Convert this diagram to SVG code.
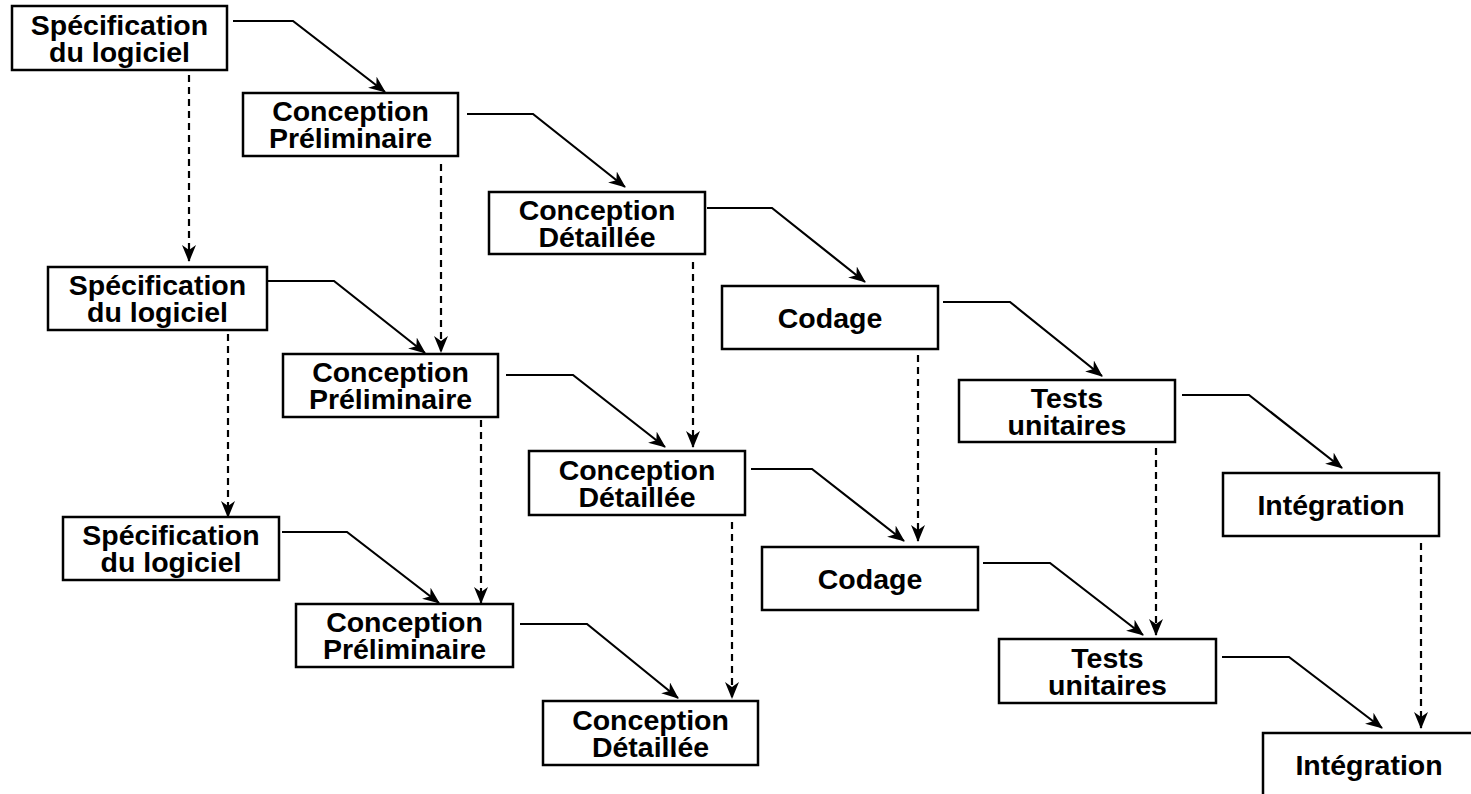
<svg xmlns="http://www.w3.org/2000/svg" width="1471" height="794" viewBox="0 0 1471 794">
<style>
.box{fill:#fff;stroke:#000;stroke-width:2.5}
.t{font-family:"Liberation Sans",Arial,sans-serif;font-weight:bold;font-size:28.5px;text-anchor:middle;fill:#000}
.flow{fill:none;stroke:#000;stroke-width:2.2;marker-end:url(#ah)}
.dep{fill:none;stroke:#000;stroke-width:2.2;stroke-dasharray:7,5;marker-end:url(#ah)}
</style>
<defs>
<marker id="ah" markerUnits="userSpaceOnUse" viewBox="0 0 17 14" markerWidth="17" markerHeight="14" refX="16" refY="7" orient="auto">
<path d="M0,0 L17,7 L0,14 L5,7 Z" fill="#000"/>
</marker>
</defs>
<rect width="1471" height="794" fill="#fff"/>
<g id="connectors">
<path class="flow" d="M233,21 H293 L385,92"/>
<path class="flow" d="M467,114 H533 L625,187"/>
<path class="flow" d="M707,208 H772 L865,282"/>
<path class="flow" d="M943,302 H1010 L1102,376"/>
<path class="flow" d="M1182,395 H1249 L1342,468"/>
<path class="flow" d="M268,281 H334 L425,353"/>
<path class="flow" d="M506,375 H573 L665,447"/>
<path class="flow" d="M751,469 H812 L904,541"/>
<path class="flow" d="M983,563 H1050 L1143,635"/>
<path class="flow" d="M1222,657 H1289 L1382,728"/>
<path class="flow" d="M282,532 H347 L439,603"/>
<path class="flow" d="M520,624 H587 L678,698"/>
<path class="dep" d="M189,75 V261"/>
<path class="dep" d="M441,164 V352"/>
<path class="dep" d="M693,262 V447"/>
<path class="dep" d="M228,334 V517"/>
<path class="dep" d="M481,420 V603"/>
<path class="dep" d="M732,522 V698"/>
<path class="dep" d="M918,355 V541"/>
<path class="dep" d="M1156,448 V635"/>
<path class="dep" d="M1421,543 V728"/>
</g>
<g id="spec1"><rect class="box" x="12" y="6" width="215" height="64"/><text class="t" x="119.5" y="35">Spécification<tspan x="119.5" dy="27">du logiciel</tspan></text></g>
<g id="prelim1"><rect class="box" x="243" y="93" width="215" height="63"/><text class="t" x="350.5" y="121">Conception<tspan x="350.5" dy="27">Préliminaire</tspan></text></g>
<g id="detail1"><rect class="box" x="489" y="192" width="216" height="62"/><text class="t" x="597" y="220">Conception<tspan x="597" dy="27">Détaillée</tspan></text></g>
<g id="codage1"><rect class="box" x="722" y="286" width="216" height="63"/><text class="t" x="830" y="328">Codage</text></g>
<g id="tests1"><rect class="box" x="959" y="380" width="216" height="62"/><text class="t" x="1067" y="408">Tests<tspan x="1067" dy="27">unitaires</tspan></text></g>
<g id="integ1"><rect class="box" x="1223" y="473" width="216" height="63"/><text class="t" x="1331" y="515">Intégration</text></g>
<g id="spec2"><rect class="box" x="48" y="267" width="219" height="63"/><text class="t" x="157.5" y="295">Spécification<tspan x="157.5" dy="27">du logiciel</tspan></text></g>
<g id="prelim2"><rect class="box" x="283" y="354" width="215" height="63"/><text class="t" x="390.5" y="382">Conception<tspan x="390.5" dy="27">Préliminaire</tspan></text></g>
<g id="detail2"><rect class="box" x="529" y="451" width="216" height="64"/><text class="t" x="637" y="480">Conception<tspan x="637" dy="27">Détaillée</tspan></text></g>
<g id="codage2"><rect class="box" x="762" y="547" width="216" height="63"/><text class="t" x="870" y="589">Codage</text></g>
<g id="tests2"><rect class="box" x="999" y="639" width="217" height="64"/><text class="t" x="1107.5" y="668">Tests<tspan x="1107.5" dy="27">unitaires</tspan></text></g>
<g id="integ2"><rect class="box" x="1263" y="733" width="212" height="70"/><text class="t" x="1369" y="775">Intégration</text></g>
<g id="spec3"><rect class="box" x="63" y="517" width="216" height="63"/><text class="t" x="171" y="545">Spécification<tspan x="171" dy="27">du logiciel</tspan></text></g>
<g id="prelim3"><rect class="box" x="296" y="604" width="217" height="63"/><text class="t" x="404.5" y="632">Conception<tspan x="404.5" dy="27">Préliminaire</tspan></text></g>
<g id="detail3"><rect class="box" x="543" y="701" width="215" height="64"/><text class="t" x="650.5" y="730">Conception<tspan x="650.5" dy="27">Détaillée</tspan></text></g>
</svg>
